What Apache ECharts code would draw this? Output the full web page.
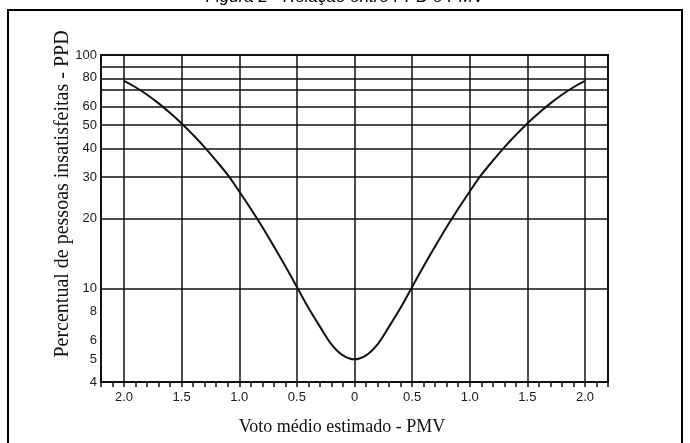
<!DOCTYPE html>
<html>
<head>
<meta charset="utf-8">
<script src="https://cdn.jsdelivr.net/npm/echarts@6/dist/echarts.min.js"></script>
<style>
  html, body { margin: 0; padding: 0; background: #fff; }
  #chart { width: 690px; height: 443px; }
</style>
</head>
<body>
<div id="chart"></div>
<script>
// PMV (x) and PPD (y, %)
var pmv = [-2.0, -1.9, -1.8, -1.7, -1.6, -1.5, -1.4, -1.3, -1.2, -1.1, -1.0,
           -0.9, -0.8, -0.7, -0.6, -0.5, -0.4, -0.3, -0.2, -0.1, 0.0,
           0.1, 0.2, 0.3, 0.4, 0.5, 0.6, 0.7, 0.8, 0.9, 1.0,
           1.1, 1.2, 1.3, 1.4, 1.5, 1.6, 1.7, 1.8, 1.9, 2.0];
var ppd = [77.5, 72.8, 67.6, 62.1, 56.5, 51, 45.5, 40.3, 35.3, 30.7, 26.1,
           22, 18.4, 15.2, 12.5, 10.2, 8.3, 6.9, 5.8, 5.2, 5.0,
           5.2, 5.8, 6.9, 8.3, 10.2, 12.5, 15.2, 18.4, 22, 26.1,
           30.7, 35.3, 40.3, 45.5, 51, 56.5, 62.1, 67.6, 72.8, 77.5];

var yTickLabels = [4, 5, 6, 8, 10, 20, 30, 40, 50, 60, 80, 100];
var yGridValues = [10, 20, 30, 40, 50, 60, 70, 80, 90];
var xGridValues = [-2.0, -1.5, -1.0, -0.5, 0, 0.5, 1.0, 1.5, 2.0];

var log = function (v) { return Math.log10(v); };
var ink = "#111";

var curve = pmv.map(function (x, i) { return [x, log(ppd[i])]; });

var gridLines = xGridValues.map(function (v) { return { xAxis: v }; })
  .concat(yGridValues.map(function (v) { return { yAxis: log(v) }; }));

var chart = echarts.init(document.getElementById("chart"), null, { renderer: "canvas" });

chart.setOption({
  animation: false,
  grid: { left: 101, right: 82, top: 55, bottom: 61, show: true, borderColor: ink, borderWidth: 2 },
  xAxis: {
    type: "value",
    min: -2.2,
    max: 2.2,
    interval: 0.1,
    axisLine: { show: true, lineStyle: { color: ink, width: 2 } },
    axisTick: { show: true, inside: false, length: 5, lineStyle: { color: ink, width: 1.5 } },
    splitLine: { show: false },
    axisLabel: {
      interval: 0,
      margin: 9,
      color: "#1a1a1a",
      fontFamily: "Liberation Sans",
      fontSize: 13,
      formatter: function (v) {
        var r = Math.round(v * 10);
        if (r % 5 !== 0) return "";
        if (r === 0) return "0";
        return Math.abs(r / 10).toFixed(1);
      }
    }
  },
  yAxis: {
    type: "value",
    min: log(4),
    max: 2,
    axisLine: { show: false },
    axisTick: { show: false },
    splitLine: { show: false },
    axisLabel: {
      customValues: yTickLabels.map(log),
      margin: 4,
      color: "#1a1a1a",
      fontFamily: "Liberation Sans",
      fontSize: 13,
      formatter: function (v) { return String(Math.round(Math.pow(10, v))); }
    }
  },
  series: [{
    type: "line",
    data: curve,
    smooth: 0.4,
    symbol: "none",
    lineStyle: { color: ink, width: 2 },
    markLine: {
      silent: true,
      symbol: "none",
      label: { show: false },
      lineStyle: { color: ink, width: 1.5, type: "solid" },
      data: gridLines
    }
  }],
  graphic: [
    {
      type: "rect",
      shape: { x: 8, y: 10, width: 674, height: 440 },
      style: { fill: "none", stroke: "#000", lineWidth: 2 }
    },
    {
      type: "text",
      x: 345, y: 6,
      style: {
        text: "Figura 2 - Relação entre PPD e PMV",
        font: "italic 17px 'Liberation Sans'",
        fill: "#000",
        textAlign: "center",
        textVerticalAlign: "bottom"
      }
    },
    {
      type: "text",
      x: 63, y: 194,
      rotation: Math.PI / 2,
      style: {
        text: "Percentual de pessoas insatisfeitas - PPD",
        font: "20px 'Liberation Serif'",
        fill: "#111",
        textAlign: "center",
        textVerticalAlign: "middle"
      }
    },
    {
      type: "text",
      x: 342, y: 427,
      style: {
        text: "Voto médio estimado - PMV",
        font: "18px 'Liberation Serif'",
        fill: "#111",
        textAlign: "center",
        textVerticalAlign: "middle"
      }
    }
  ]
});
</script>
</body>
</html>
